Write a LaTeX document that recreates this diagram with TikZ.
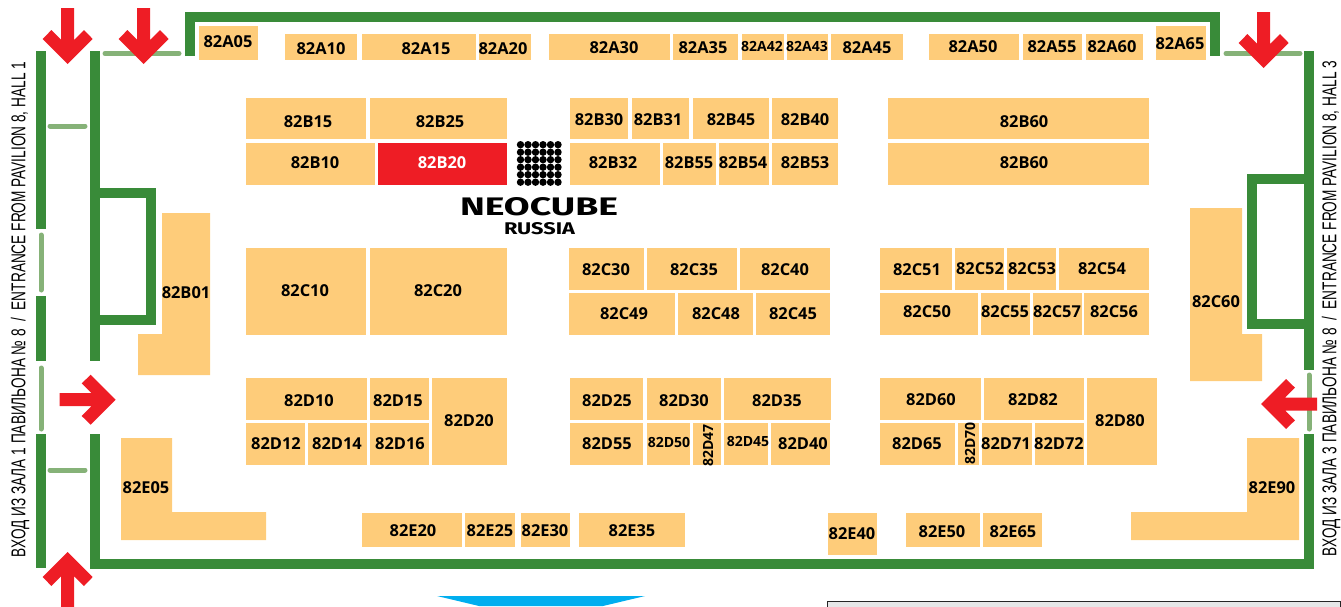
\documentclass[tikz,border=0pt]{standalone}
\usepackage{fontspec}
\setmainfont{Open Sans}
\newfontfamily\sidefont{Liberation Sans}
\newfontfamily\logofont{Fira Sans}
\definecolor{boothfill}{HTML}{FECC7A}
\definecolor{wallgreen}{HTML}{398B39}
\definecolor{palegreen}{HTML}{86B278}
\definecolor{arrowred}{HTML}{EE1D25}
\definecolor{skyblue}{HTML}{00AEEF}
\definecolor{panelgrey}{HTML}{E6E7E8}
\tikzset{
  booth/.style={fill=boothfill},
  boothlabel/.style={inner sep=0pt,yshift=-0.8pt,font=\bfseries\fontsize{16.4}{16.4}\selectfont,text=black},
  smalllabel/.style={font=\bfseries\fontsize{14}{14}\selectfont},
  wall/.style={draw=wallgreen,line width=10pt,line cap=butt,miter limit=10},
  door/.style={draw=palegreen,line width=5pt,line cap=round},
  sidetext/.style={inner sep=0pt,rotate=90,text=black}
}
\newcommand\stand[8][]{%
  \fill[booth] (#2,#3) rectangle (#4,#5);
  \node[boothlabel,#1] (#8) at (#6,#7) {#8};}
\newcommand\redarrow[3]{%
  \fill[arrowred,shift={(#1,#2)},rotate=#3]
    (0,0) -- (25,-25) -- (16.3,-34) -- (6.5,-24.2) -- (6.5,-56) -- (-6.5,-56)
    -- (-6.5,-24.2) -- (-16.3,-34) -- (-25,-25) -- cycle;}
\newcommand\sidelabel[4]{%
  \node[sidetext] (#1) at (#2,#3) {\resizebox{495pt}{\height}{\sidefont\fontsize{20}{20}\selectfont #4}};}
\begin{document}
\begin{tikzpicture}[x=1pt,y=-1pt]
\useasboundingbox (0,0) rectangle (1341,606);
\clip (0,0) rectangle (1341,606);
% walls
\draw[wall] (189.5,56) -- (189.5,17.3) -- (1215,17.3) -- (1215,56);
\draw[wall] (94.5,51) -- (94.5,361);
\draw[wall] (94.5,434) -- (94.5,564) -- (1309,564) -- (1309,434);
\draw[wall] (1309,51) -- (1309,370);
\draw[wall] (40.5,51) -- (40.5,229);
\draw[wall] (40.5,296) -- (40.5,361);
\draw[wall] (40.5,434) -- (40.5,568);
\draw[wall] (94.5,193) -- (151,193) -- (151,320) -- (94.5,320);
\draw[wall] (1309,179) -- (1252,179) -- (1252,324) -- (1309,324);
% doors
\draw[door] (105,53.5) -- (179,53.5);
\draw[door] (1226,53.5) -- (1300,53.5);
\draw[door] (50,126) -- (85,126);
\draw[door] (50,470) -- (85,470);
\draw[door] (41,235) -- (41,290);
\draw[door] (41,368) -- (41,429);
\draw[door] (1309,375) -- (1309,429);
% row A
\stand{199}{26}{258}{60}{228}{41}{82A05}
\stand{285}{34}{357}{60}{321}{48}{82A10}
\stand{362}{34}{476}{60}{426}{48}{82A15}
\stand{479}{34}{531}{60}{503}{48}{82A20}
\stand{549}{34}{670}{60}{614}{47}{82A30}
\stand{673}{34}{738}{60}{703}{47}{82A35}
\stand[smalllabel]{742}{34}{784}{60}{762}{46}{82A42}
\stand[smalllabel]{787}{34}{828}{60}{807}{46}{82A43}
\stand{831}{34}{903}{60}{867}{47}{82A45}
\stand{929}{34}{1019}{60}{973}{46}{82A50}
\stand{1023}{34}{1082}{60}{1052}{46}{82A55}
\stand{1086}{34}{1143}{60}{1112}{46}{82A60}
\stand{1156}{26}{1206}{60}{1180}{43}{82A65}
% row B
\stand{246}{98}{366}{139}{308}{121}{82B15}
\stand{370}{98}{507}{139}{440}{121}{82B25}
\stand{246}{143}{375}{185}{315}{162}{82B10}
\fill[arrowred] (378,143) rectangle (507,185);
\node[boothlabel,text=white] (82B20) at (442,162) {82B20};
\stand{570}{98}{628}{139}{599}{119}{82B30}
\stand{632}{98}{689}{139}{658}{119}{82B31}
\stand{693}{98}{769}{139}{731}{119}{82B45}
\stand{772}{98}{838}{139}{805}{119}{82B40}
\stand{570}{143}{660}{185}{613}{162}{82B32}
\stand{663}{143}{716}{185}{689}{162}{82B55}
\stand{719}{143}{769}{185}{743}{162}{82B54}
\stand{772}{143}{838}{185}{805}{162}{82B53}
\stand{888}{98}{1149}{139}{1024}{121}{82B60}
\stand{888}{143}{1149}{185}{1024}{162}{82B60}
% L-shaped
\fill[booth] (162,213) -- (210,213) -- (210,375) -- (138,375) -- (138,334) -- (162,334) -- cycle;
\node[boothlabel] (82B01) at (186,292) {82B01};
\fill[booth] (1190,208) -- (1242,208) -- (1242,334) -- (1262,334) -- (1262,381) -- (1190,381) -- cycle;
\node[boothlabel] (82C60) at (1216,301) {82C60};
\fill[booth] (121,438) -- (172,438) -- (172,512) -- (266,512) -- (266,540) -- (121,540) -- cycle;
\node[boothlabel] (82E05) at (146,487) {82E05};
\fill[booth] (1247,438) -- (1299,438) -- (1299,540) -- (1131,540) -- (1131,512) -- (1247,512) -- cycle;
\node[boothlabel] (82E90) at (1272,487) {82E90};
% row C
\stand{246}{248}{366}{335}{305}{290}{82C10}
\stand{370}{248}{507}{335}{438}{290}{82C20}
\stand{569}{248}{644}{290}{606}{269}{82C30}
\stand{647}{248}{737}{290}{694}{269}{82C35}
\stand{740}{248}{830}{290}{785}{269}{82C40}
\stand{569}{293}{675}{335}{624}{313}{82C49}
\stand{678}{293}{753}{335}{716}{313}{82C48}
\stand{756}{293}{830}{335}{793}{313}{82C45}
\stand{880}{248}{952}{290}{917}{269}{82C51}
\stand{955}{248}{1004}{290}{980}{268}{82C52}
\stand{1007}{248}{1056}{290}{1032}{268}{82C53}
\stand{1059}{248}{1149}{290}{1102}{268}{82C54}
\stand{880}{293}{978}{335}{927}{311}{82C50}
\stand{981}{293}{1030}{335}{1005}{311}{82C55}
\stand{1033}{293}{1082}{335}{1057}{311}{82C57}
\stand{1084}{293}{1149}{335}{1114}{311}{82C56}
% row D
\stand{246}{378}{367}{420}{309}{400}{82D10}
\stand{370}{378}{429}{420}{398}{400}{82D15}
\stand{432}{378}{507}{465}{469}{420}{82D20}
\stand{246}{423}{305}{465}{276}{443}{82D12}
\stand{308}{423}{367}{465}{337}{443}{82D14}
\stand{370}{423}{429}{465}{400}{443}{82D16}
\stand{570}{378}{643}{420}{607}{400}{82D25}
\stand{647}{378}{721}{420}{684}{400}{82D30}
\stand{724}{378}{831}{420}{777}{400}{82D35}
\stand{570}{423}{643}{465}{607}{443}{82D55}
\stand[smalllabel]{647}{423}{690}{465}{669}{442}{82D50}
\stand[smalllabel,rotate=90]{693}{423}{721}{465}{708}{445}{82D47}
\stand[smalllabel]{724}{423}{768}{465}{748}{441}{82D45}
\stand{771}{423}{830}{465}{803}{443}{82D40}
\stand{880}{378}{981}{420}{931}{399}{82D60}
\stand{984}{378}{1084}{420}{1033}{399}{82D82}
\stand{1087}{378}{1157}{465}{1120}{420}{82D80}
\stand{880}{423}{955}{465}{917}{443}{82D65}
\stand[smalllabel,rotate=90]{958}{423}{979}{465}{970}{443}{82D70}
\stand{982}{423}{1032}{465}{1006}{443}{82D71}
\stand{1035}{423}{1084}{465}{1059}{443}{82D72}
% row E
\stand{362}{513}{462}{547}{413}{530}{82E20}
\stand{465}{513}{515}{547}{490}{530}{82E25}
\stand{521}{513}{570}{547}{545}{530}{82E30}
\stand{579}{513}{685}{547}{632}{530}{82E35}
\stand{828}{513}{877}{555}{852}{533}{82E40}
\stand{906}{513}{980}{547}{942}{531}{82E50}
\stand{983}{513}{1042}{547}{1013}{531}{82E65}
% arrows
\redarrow{67.7}{64}{0}
\redarrow{143.7}{64}{0}
\redarrow{1263.7}{68}{0}
\redarrow{115.7}{399.7}{90}
\redarrow{1261}{404}{-90}
\redarrow{67.7}{552}{180}
% logo
\foreach \i in {0,...,5}
  \foreach \j in {0,...,5}
    \fill[black] (520.5+7.5*\i,144.7+7.5*\j) circle (3.7pt);
\node[inner sep=0pt] (neocube) at (539,207) {\resizebox{158pt}{18pt}{\logofont\bfseries NEOCUBE}};
\node[inner sep=0pt] (russia) at (539.5,229) {\resizebox{71pt}{12pt}{\logofont\bfseries RUSSIA}};
% side texts
\sidelabel{sideL}{20}{309.5}{ВХОД ИЗ ЗАЛА 1 ПАВИЛЬОНА № 8\ \ /\ \ ENTRANCE FROM PAVILION 8, HALL 1}
\sidelabel{sideR}{1331}{308.5}{ВХОД ИЗ ЗАЛА 3 ПАВИЛЬОНА № 8\ \ /\ \ ENTRANCE FROM PAVILION 8, HALL 3}
% bottom
\fill[skyblue] (437,596) -- (645,596) -- (603,606) -- (479,606) -- cycle;
\filldraw[draw=black!85,fill=panelgrey,line width=1pt] (827,601) rectangle (1340,612);
\end{tikzpicture}
\end{document}
